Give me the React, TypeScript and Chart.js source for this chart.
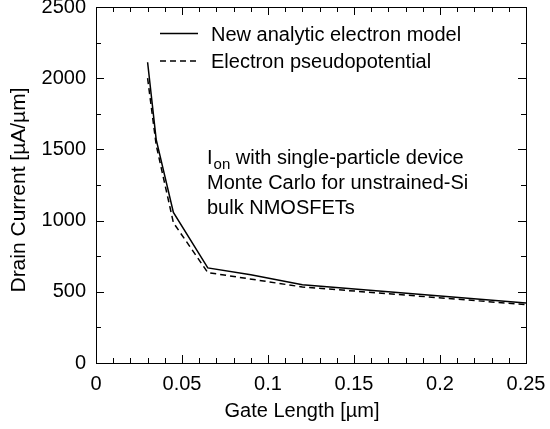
import React, { useEffect, useRef } from "react";
import { Chart, registerables } from "chart.js";

Chart.register(...registerables);

// ---- data ----
const solidX = [0.03, 0.035, 0.045, 0.065, 0.09, 0.12, 0.25];
const solidY = [2112, 1569, 1058, 668, 620, 550, 422];
const dashedX = [0.03, 0.035, 0.045, 0.065, 0.12, 0.25];
const dashedY = [2000, 1530, 985, 635, 534, 410];
const seriesNames = ["New analytic electron model", "Electron pseudopotential"];
const xTickLabels = ["0", "0.05", "0.1", "0.15", "0.2", "0.25"];
const yTickLabels = ["0", "500", "1000", "1500", "2000", "2500"];
const xTitle = "Gate Length [\u00b5m]";
const yTitle = "Drain Current [\u00b5A/\u00b5m]";
const noteLines = ["with single-particle device", "Monte Carlo for unstrained-Si", "bulk NMOSFETs"];

const FONT = "'Liberation Sans', Arial, Helvetica, sans-serif";

const decorPlugin = {
  id: "decor",
  afterDraw(chart: any) {
    const ctx = chart.ctx as CanvasRenderingContext2D;
    const { left, right, top, bottom } = chart.chartArea;
    const xs = chart.scales.x;
    const ys = chart.scales.y;
    ctx.save();
    // frame
    ctx.strokeStyle = "#000";
    ctx.lineWidth = 1;
    ctx.strokeRect(Math.round(left) + 0.5, Math.round(top) + 0.5, Math.round(right - left), Math.round(bottom - top));
    // x ticks (minor 0.01, major 0.05), inward, top and bottom
    for (let i = 0; i <= 25; i++) {
      const v = i * 0.01;
      const px = Math.round(xs.getPixelForValue(v)) + 0.5;
      const len = i % 5 === 0 ? 8 : 5;
      ctx.beginPath();
      ctx.moveTo(px, bottom);
      ctx.lineTo(px, bottom - len);
      ctx.moveTo(px, top);
      ctx.lineTo(px, top + len);
      ctx.stroke();
    }
    // y ticks (minor 250, major 500)
    for (let i = 0; i <= 10; i++) {
      const v = i * 250;
      const py = Math.round(ys.getPixelForValue(v)) + 0.5;
      const len = i % 2 === 0 ? 8 : 5;
      ctx.beginPath();
      ctx.moveTo(left, py);
      ctx.lineTo(left + len, py);
      ctx.moveTo(right, py);
      ctx.lineTo(right - len, py);
      ctx.stroke();
    }
    // legend
    ctx.fillStyle = "#000";
    ctx.font = `20px ${FONT}`;
    ctx.textBaseline = "alphabetic";
    ctx.textAlign = "left";
    const legendRows = [
      { y: 33.5, text: seriesNames[0], ds: chart.data.datasets[0] },
      { y: 61, text: seriesNames[1], ds: chart.data.datasets[1] },
    ];
    legendRows.forEach((r) => {
      ctx.save();
      ctx.lineWidth = r.ds.borderWidth;
      ctx.setLineDash(r.ds.borderDash || []);
      ctx.beginPath();
      ctx.moveTo(160, r.y);
      ctx.lineTo(198, r.y);
      ctx.stroke();
      ctx.restore();
      ctx.fillText(r.text, 211, r.y + 7);
    });
    // annotation
    const ax = 207;
    const ay = 164;
    ctx.font = `20px ${FONT}`;
    ctx.fillText("I", ax, ay);
    const iw = ctx.measureText("I").width;
    ctx.font = `15px ${FONT}`;
    ctx.fillText("on", ax + iw + 1, ay + 5);
    const ow = ctx.measureText("on").width;
    ctx.font = `20px ${FONT}`;
    ctx.fillText(" " + noteLines[0], ax + iw + 1 + ow, ay);
    ctx.fillText(noteLines[1], ax, ay + 25);
    ctx.fillText(noteLines[2], ax, ay + 50);
    // axis titles
    ctx.textAlign = "center";
    ctx.fillText(xTitle, 302, 417);
    ctx.save();
    ctx.translate(25, 190);
    ctx.rotate(-Math.PI / 2);
    ctx.font = `21px ${FONT}`;
    ctx.fillText(yTitle, 0, 0);
    ctx.restore();
    ctx.restore();
  },
};

export default function App() {
  const ref = useRef<HTMLCanvasElement | null>(null);
  useEffect(() => {
    document.body.style.margin = "0";
    const canvas = ref.current;
    if (!canvas) return;
    const chart = new Chart(canvas, {
      type: "scatter",
      data: {
        datasets: [
          {
            label: seriesNames[0],
            data: solidX.map((x, i) => ({ x, y: solidY[i] })),
            showLine: true,
            borderColor: "#000",
            backgroundColor: "#000",
            borderWidth: 1.5,
            pointRadius: 0,
            tension: 0,
          },
          {
            label: seriesNames[1],
            data: dashedX.map((x, i) => ({ x, y: dashedY[i] })),
            showLine: true,
            borderColor: "#000",
            backgroundColor: "#000",
            borderWidth: 1.5,
            borderDash: [6, 4],
            pointRadius: 0,
            tension: 0,
          },
        ],
      },
      options: {
        animation: false,
        responsive: false,
        maintainAspectRatio: false,
        layout: { padding: { top: 7, right: 24, left: 0, bottom: 0 } },
        plugins: { legend: { display: false }, tooltip: { enabled: false }, title: { display: false } },
        scales: {
          x: {
            type: "linear",
            min: 0,
            max: 0.25,
            grid: { display: false, drawTicks: false },
            border: { display: false },
            ticks: {
              stepSize: 0.05,
              padding: 9,
              color: "#000",
              font: { family: FONT, size: 20 },
              maxRotation: 0,
              autoSkip: false,
              callback: (_v: any, i: number) => xTickLabels[i],
            },
            afterFit: (s: any) => {
              s.height = 66;
              s.paddingLeft = 0;
              s.paddingRight = 0;
            },
          },
          y: {
            type: "linear",
            min: 0,
            max: 2500,
            grid: { display: false, drawTicks: false },
            border: { display: false },
            ticks: {
              stepSize: 500,
              padding: 10,
              color: "#000",
              font: { family: FONT, size: 20 },
              autoSkip: false,
              callback: (_v: any, i: number) => yTickLabels[i],
            },
            afterFit: (s: any) => {
              s.width = 96;
              s.paddingTop = 0;
              s.paddingBottom = 0;
            },
          },
        },
      },
      plugins: [decorPlugin],
    });
    return () => chart.destroy();
  }, []);
  return <canvas ref={ref} width={550} height={429} style={{ display: "block" }} />;
}
